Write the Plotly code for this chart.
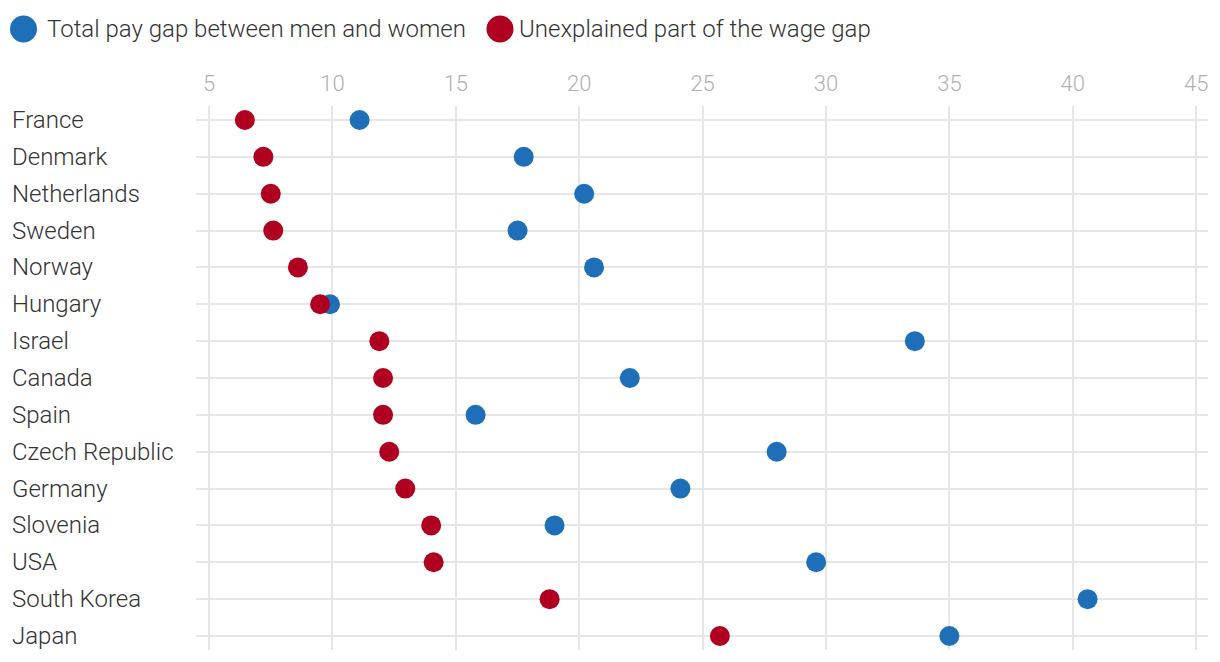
import plotly.graph_objects as go

countries = ["France", "Denmark", "Netherlands", "Sweden", "Norway", "Hungary", "Israel",
             "Canada", "Spain", "Czech Republic", "Germany", "Slovenia", "USA",
             "South Korea", "Japan"]
total_gap = [11.1, 17.75, 20.2, 17.5, 20.6, 9.9, 33.6, 22.05, 15.8, 28.0, 24.1, 19.0, 29.6, 40.6, 35.0]
unexplained_gap = [6.45, 7.2, 7.5, 7.6, 8.6, 9.5, 11.9, 12.05, 12.05, 12.3, 12.95, 14.0, 14.1, 18.8, 25.7]
x_ticks = [5, 10, 15, 20, 25, 30, 35, 40, 45]

legend_labels = ["Total pay gap between men and women", "Unexplained part of the wage gap"]
BLUE = "#1f6fb8"
RED = "#b0001f"
FONT = "Roboto"

# page body has an 8px margin; lay out in page pixels and compensate
OFF = 8
W, H = 1220 - OFF, 662 - OFF
ml, mr, mt, mb = 196 - OFF, 12, 106 - OFF, 12
pw, ph = W - ml - mr, H - mt - mb

fig = go.Figure()
fig.add_trace(go.Scatter(x=total_gap, y=countries, mode="markers",
                         marker=dict(color=BLUE, size=20), name=legend_labels[0],
                         showlegend=False, hoverinfo="x+y"))
fig.add_trace(go.Scatter(x=unexplained_gap, y=countries, mode="markers",
                         marker=dict(color=RED, size=20), name=legend_labels[1],
                         showlegend=False, hoverinfo="x+y"))

annotations = []
for c in countries:
    annotations.append(dict(text=c, x=(10 - OFF - ml) / pw, xref="paper", y=c, yref="y",
                            xanchor="left", yanchor="middle", showarrow=False,
                            font=dict(family=FONT, size=24, color="#333333", weight=300)))

# manual legend
shapes = []
leg = [(23.5, BLUE, legend_labels[0], 45), (500, RED, legend_labels[1], 517)]
for cx, col, lab, tx in leg:
    xp = (cx - OFF - ml) / pw
    yp = (H - mb - (29 - OFF)) / ph
    shapes.append(dict(type="circle", xref="paper", yref="paper", xsizemode="pixel",
                       ysizemode="pixel", xanchor=xp, yanchor=yp, x0=-13.5, x1=13.5, y0=-13.5, y1=13.5,
                       fillcolor=col, line=dict(width=0)))
    annotations.append(dict(text=lab, x=(tx - OFF - ml) / pw, y=yp, xref="paper", yref="paper",
                            xanchor="left", yanchor="middle", showarrow=False,
                            font=dict(family=FONT, size=24, color="#333333", weight=300)))

fig.update_layout(
    width=W, height=H,
    margin=dict(l=ml, r=mr, t=mt, b=mb),
    plot_bgcolor="white", paper_bgcolor="white",
    showlegend=False,
    xaxis=dict(side="top", range=[4.47, 45.48], tickvals=x_ticks, showgrid=True,
               gridcolor="#e6e6e6", gridwidth=2, zeroline=False, showline=False,
               tickfont=dict(family=FONT, size=22, color="#b0b0b0", weight=300),
               ticks="", ticklabelstandoff=10),
    yaxis=dict(range=[14.38, -0.38], showgrid=True, gridcolor="#e6e6e6", gridwidth=2,
               showticklabels=False, zeroline=False, showline=False, ticks=""),
    shapes=shapes,
    annotations=annotations,
)
fig.write_html("out.html")
